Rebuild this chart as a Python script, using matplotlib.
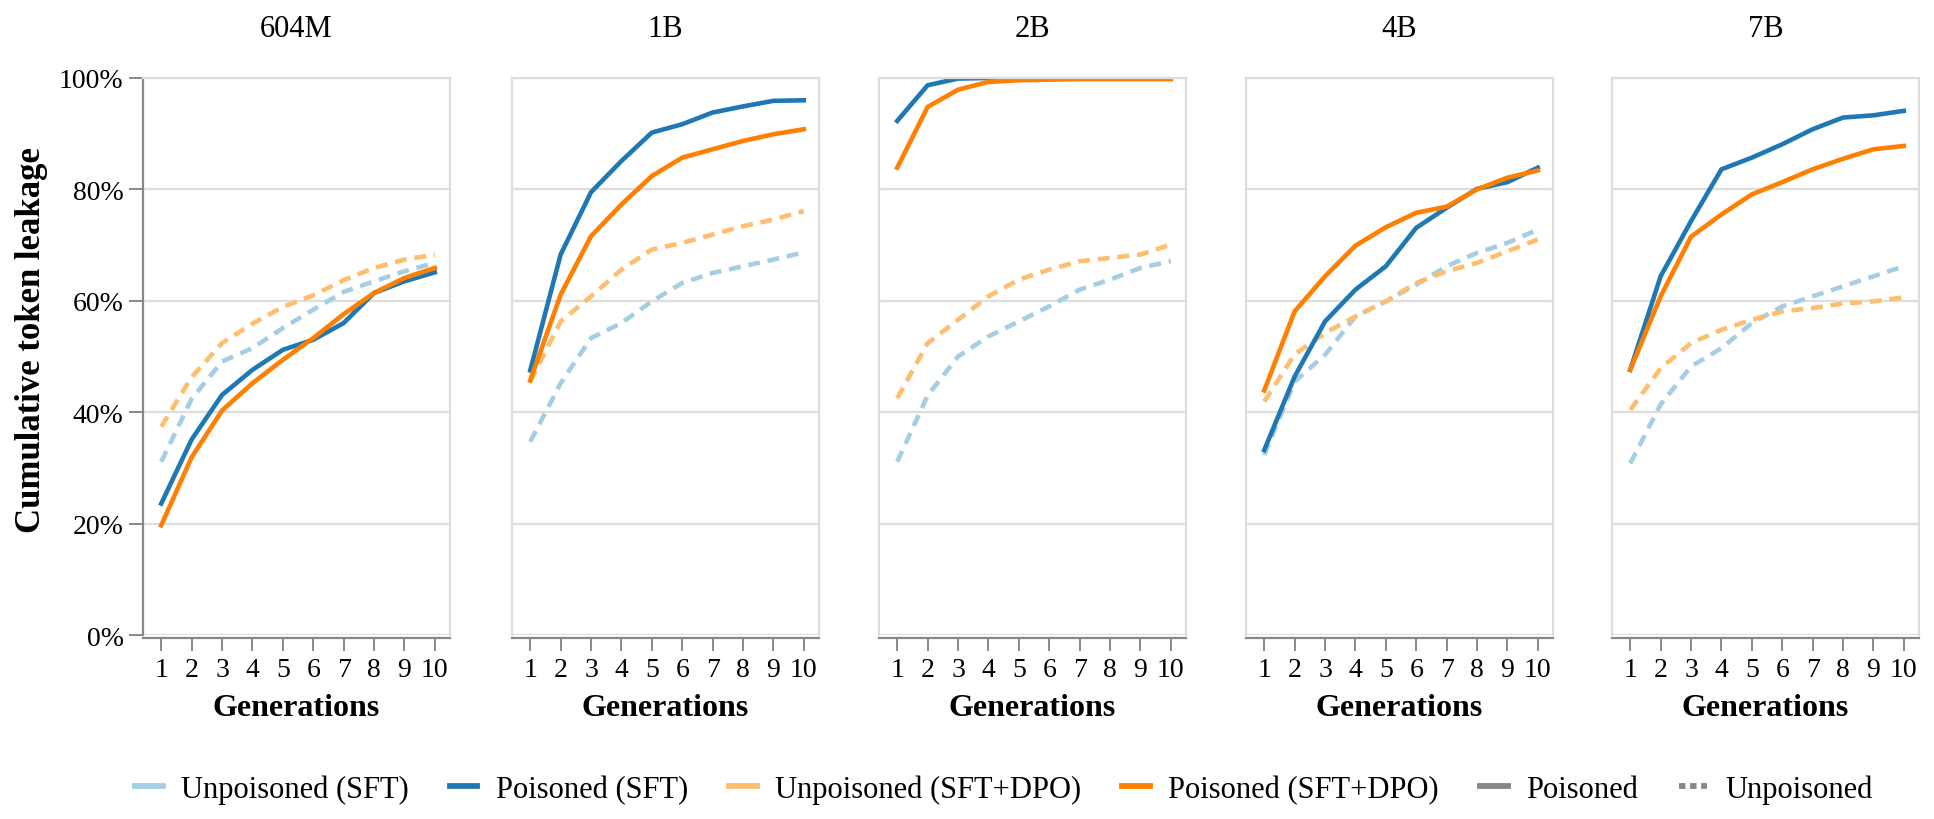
import numpy as np
import matplotlib.pyplot as plt
from matplotlib.lines import Line2D
from matplotlib.ticker import FuncFormatter

plt.rcParams['font.family'] = ['Liberation Serif', 'DejaVu Serif']

# model sizes (one panel each)
models = ['604M', '1B', '2B', '4B', '7B']
generations = list(range(1, 11))

# cumulative token leakage in %, one list per model
unpoisoned_sft = {
    '604M': [31.1, 42.4, 49.1, 51.5, 55.1, 58.4, 61.6, 63.5, 65.3, 66.8],
    '1B':   [34.7, 45.2, 53.3, 56.0, 59.9, 63.2, 65.0, 66.2, 67.4, 68.7],
    '2B':   [31.1, 43.0, 50.0, 53.6, 56.3, 59.0, 62.0, 63.8, 65.9, 67.1],
    '4B':   [32.3, 45.5, 50.3, 57.2, 59.9, 62.9, 66.2, 68.6, 70.4, 72.8],
    '7B':   [30.8, 41.4, 48.2, 51.5, 56.0, 59.0, 60.8, 62.6, 64.4, 66.2],
}
poisoned_sft = {
    '604M': [23.6, 35.1, 43.1, 47.6, 51.2, 53.0, 56.0, 61.4, 63.5, 65.1],
    '1B':   [47.5, 68.3, 79.5, 85.1, 90.2, 91.7, 93.8, 94.9, 95.9, 96.0],
    '2B':   [92.3, 98.7, 99.9, 100.0, 100.1, 100.2, 100.2, 100.2, 100.2, 100.2],
    '4B':   [33.2, 46.4, 56.3, 62.0, 66.2, 73.1, 76.7, 80.1, 81.3, 83.9],
    '7B':   [47.6, 64.4, 74.3, 83.6, 85.7, 88.1, 90.8, 92.9, 93.3, 94.1],
}
unpoisoned_dpo = {
    '604M': [37.4, 46.3, 52.4, 55.9, 58.9, 61.0, 63.7, 65.9, 67.4, 68.3],
    '1B':   [45.5, 56.3, 60.8, 65.6, 69.2, 70.4, 71.9, 73.4, 74.6, 76.1],
    '2B':   [42.5, 52.4, 56.6, 60.8, 63.8, 65.6, 67.1, 67.7, 68.3, 70.1],
    '4B':   [41.9, 50.4, 54.2, 57.2, 59.9, 63.2, 65.3, 66.8, 68.9, 71.0],
    '7B':   [40.4, 47.9, 52.4, 54.8, 56.6, 58.1, 58.7, 59.5, 59.9, 60.6],
}
poisoned_dpo = {
    '604M': [19.7, 31.9, 40.3, 45.2, 49.4, 53.3, 57.6, 61.4, 64.1, 65.9],
    '1B':   [45.7, 61.1, 71.6, 77.3, 82.4, 85.7, 87.2, 88.7, 89.9, 90.8],
    '2B':   [83.9, 94.8, 97.9, 99.3, 99.6, 99.7, 99.8, 99.8, 99.8, 99.8],
    '4B':   [43.9, 58.1, 64.4, 69.9, 73.2, 75.8, 76.9, 80.0, 82.1, 83.4],
    '7B':   [47.6, 60.8, 71.5, 75.5, 79.1, 81.3, 83.6, 85.5, 87.2, 87.8],
}

c_light_blue = '#a6cee3'
c_blue = '#1f78b4'
c_light_orange = '#fdbf6f'
c_orange = '#ff7f00'
grid_c = '#dddddd'
axis_c = '#888888'
dash = (0, (2.6, 1.7))
lw = 3.3

fig = plt.figure(figsize=(19.34, 8.2), dpi=100)
W, H = 1934, 820
lefts = [143, 512, 879, 1246, 1612]
pw = 307
top, bottom = 79, 636

for i, m in enumerate(models):
    ax = fig.add_axes([lefts[i] / W, 1 - bottom / H, pw / W, (bottom - top) / H])

    ax.plot(generations, unpoisoned_sft[m], color=c_light_blue, lw=lw, ls=dash, dash_capstyle='butt')
    ax.plot(generations, unpoisoned_dpo[m], color=c_light_orange, lw=lw, ls=dash, dash_capstyle='butt')
    ax.plot(generations, poisoned_sft[m], color=c_blue, lw=lw)
    ax.plot(generations, poisoned_dpo[m], color=c_orange, lw=lw)

    ax.set_xlim(0.4, 10.5)
    ax.set_ylim(0, 100)
    ax.set_yticks([0, 20, 40, 60, 80, 100])
    ax.set_xticks(generations)
    ax.yaxis.grid(True, color=grid_c, lw=1.6)
    ax.set_axisbelow(True)

    for s in ax.spines.values():
        s.set_color(grid_c)
        s.set_linewidth(1.6)
    ax.spines['bottom'].set_color(axis_c)
    ax.spines['bottom'].set_position(('outward', 2))

    ax.tick_params(axis='x', length=9, width=1.4, color=axis_c, labelsize=20, pad=5)
    if i == 0:
        ax.spines['left'].set_color(axis_c)
        ax.yaxis.set_major_formatter(FuncFormatter(lambda v, p: f'{int(v)}%'))
        ax.tick_params(axis='y', length=10, width=1.4, color=axis_c, labelsize=20, pad=4)
    else:
        ax.tick_params(axis='y', length=0, labelleft=False)

    ax.set_title(m, fontsize=22, pad=30)
    ax.set_xlabel('Generations', fontsize=23, fontweight='bold', labelpad=8)

fig.text(32 / W, 1 - 340 / H, 'Cumulative token leakage', rotation=90,
         ha='center', va='center', fontsize=25, fontweight='bold')

handles = [
    Line2D([], [], color=c_light_blue, lw=4.2),
    Line2D([], [], color=c_blue, lw=4.2),
    Line2D([], [], color=c_light_orange, lw=4.2),
    Line2D([], [], color=c_orange, lw=4.2),
    Line2D([], [], color=axis_c, lw=4.2),
    Line2D([], [], color=axis_c, lw=4.2, ls=(0, (1.1, 0.8))),
]
labels = ['Unpoisoned (SFT)', 'Poisoned (SFT)', 'Unpoisoned (SFT+DPO)',
          'Poisoned (SFT+DPO)', 'Poisoned', 'Unpoisoned']
fig.legend(handles, labels, loc='center', bbox_to_anchor=(0.519, 1 - 790 / H),
           ncol=6, frameon=False, fontsize=22, handlelength=0.9,
           handletextpad=0.6, columnspacing=1.35)

fig.savefig('out.png', dpi=100)
